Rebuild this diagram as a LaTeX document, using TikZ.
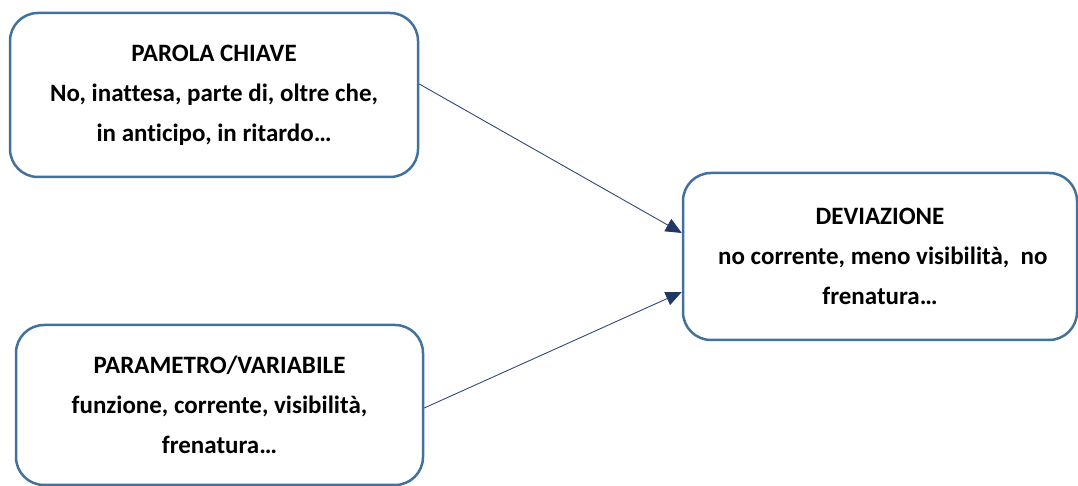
\documentclass[tikz,border=0pt]{standalone}
\usepackage{fontspec}
\setmainfont{Carlito}[Ligatures=NoCommon]
\usetikzlibrary{arrows.meta}
\definecolor{boxline}{HTML}{41719C}
\definecolor{arrowline}{HTML}{2F4A7A}
\definecolor{arrowtip}{HTML}{1F3864}
\begin{document}
\begin{tikzpicture}[x=1pt,y=1pt,
  infobox/.style={draw=boxline, line width=2.5pt, rounded corners=28pt,
    fill=white, align=center, inner sep=0pt,
    font=\fontsize{25}{40}\selectfont\bfseries},
  link/.style={draw=arrowline, line width=0.9pt,
    -{Triangle[length=16pt,width=14pt,fill=arrowtip,color=arrowtip]}}]
  \useasboundingbox (0,0) rectangle (1078,486);
  % the two input boxes on the left
  \node[infobox, minimum width=408pt, minimum height=164pt] (kw) at (214,391)
    {PAROLA CHIAVE\\No, inattesa, parte di, oltre che,\\in anticipo, in ritardo\dots};
  \node[infobox, minimum width=407pt, minimum height=160pt] (par) at (219.5,81)
    {PARAMETRO/VARIABILE\\funzione, corrente, visibilità,\\frenatura\dots};
  % the resulting box on the right
  \node[infobox, minimum width=394pt, minimum height=167pt] (dev) at (880,229.5)
    {DEVIAZIONE\\\ no corrente, meno visibilità,\ \ no\\frenatura\dots};
  % connectors
  \draw[link] ([yshift=11pt]kw.east) -- ([yshift=23.5pt]dev.west);
  \draw[link] ([yshift=-3pt]par.east) -- ([yshift=-35.5pt]dev.west);
\end{tikzpicture}
\end{document}
